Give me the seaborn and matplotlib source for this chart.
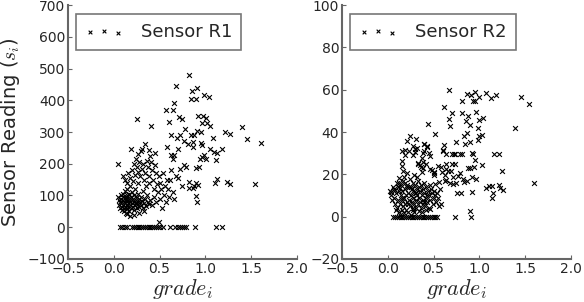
import matplotlib
matplotlib.use("Agg")
import matplotlib.pyplot as plt
import seaborn as sns
import numpy as np
import pandas as pd

# Sensor R1 readings (grade, reading)
r1_points = [
    (0.82, 480), (0.68, 445), (0.85, 428), (0.91, 438), (0.84, 405), (0.90, 405),
    (0.99, 418), (1.04, 410), (0.66, 390), (0.57, 368), (0.65, 368), (0.25, 340),
    (0.60, 333), (0.41, 318), (0.71, 348), (0.75, 342), (0.92, 350), (0.97, 350),
    (1.01, 345), (0.96, 328), (1.02, 328), (1.05, 320), (1.40, 315), (1.46, 277),
    (1.61, 264), (1.22, 300), (1.27, 293), (1.08, 280), (0.78, 310), (0.62, 290),
    (0.69, 282), (0.72, 290), (0.84, 290), (0.88, 290), (0.86, 270), (0.91, 304),
    (0.95, 300), (0.77, 272), (0.81, 262), (0.86, 252), (0.95, 265), (0.96, 258),
    (1.05, 245), (1.09, 238), (1.13, 235), (1.18, 245), (0.98, 226), (0.96, 220),
    (1.01, 216), (1.12, 212), (0.94, 216), (0.19, 246), (0.31, 247), (0.34, 263),
    (0.39, 244), (0.45, 235), (0.58, 252), (0.70, 247), (0.62, 226), (0.65, 216),
    (0.66, 228), (0.77, 196), (0.79, 190), (0.90, 186), (0.93, 190), (1.13, 152),
    (1.11, 138), (1.24, 142), (1.27, 137), (1.54, 136), (0.90, 139), (0.88, 131),
    (0.87, 125), (0.82, 125), (0.82, 142), (0.92, 133), (0.90, 97), (0.91, 79),
    (0.49, 17),
    (0.05, 95), (0.06, 85), (0.06, 70), (0.07, 60), (0.07, 80), (0.08, 100),
    (0.08, 90), (0.08, 75), (0.09, 65), (0.09, 55), (0.10, 105), (0.10, 95),
    (0.10, 85), (0.10, 70), (0.11, 60), (0.11, 50), (0.11, 80), (0.12, 115),
    (0.12, 92), (0.12, 75), (0.13, 65), (0.13, 88), (0.13, 45), (0.14, 100),
    (0.14, 82), (0.14, 70), (0.15, 58), (0.15, 95), (0.15, 120), (0.16, 85),
    (0.16, 75), (0.16, 65), (0.17, 105), (0.17, 90), (0.17, 50), (0.18, 80),
    (0.18, 70), (0.18, 130), (0.19, 95), (0.19, 60), (0.20, 85), (0.20, 75),
    (0.20, 110), (0.21, 65), (0.21, 90), (0.22, 80), (0.22, 100), (0.22, 55),
    (0.23, 70), (0.23, 120), (0.24, 85), (0.24, 75), (0.25, 95), (0.25, 62),
    (0.26, 80), (0.26, 140), (0.27, 72), (0.27, 105), (0.28, 88), (0.28, 65),
    (0.29, 78), (0.30, 95), (0.30, 70), (0.31, 82), (0.32, 60), (0.32, 115),
    (0.33, 75), (0.34, 90), (0.35, 68), (0.36, 100), (0.37, 80), (0.38, 72),
    (0.40, 85), (0.42, 70), (0.44, 95), (0.46, 78), (0.05, 200), (0.10, 160),
    (0.12, 150), (0.14, 140), (0.16, 170), (0.18, 155), (0.20, 180), (0.21, 145),
    (0.22, 200), (0.23, 165), (0.24, 215), (0.25, 190), (0.26, 175), (0.27, 230),
    (0.28, 205), (0.29, 160), (0.30, 240), (0.31, 185), (0.32, 200), (0.33, 150),
    (0.34, 170), (0.35, 130), (0.36, 210), (0.37, 190), (0.38, 160), (0.39, 140),
    (0.40, 225), (0.41, 205), (0.42, 180), (0.43, 150), (0.44, 120), (0.45, 195),
    (0.46, 170), (0.47, 135), (0.48, 110), (0.49, 160), (0.50, 90), (0.51, 140),
    (0.52, 120), (0.53, 60), (0.54, 170), (0.55, 100), (0.56, 130), (0.57, 80),
    (0.58, 150), (0.59, 120), (0.60, 95), (0.61, 150), (0.63, 180), (0.65, 110),
    (0.66, 90), (0.68, 160), (0.70, 155), (0.72, 185), (0.74, 130), (0.28, 45),
    (0.22, 40), (0.18, 35), (0.33, 50), (0.14, 42),
]
# R1 readings stuck at zero
r1_zero_x = [0.07, 0.09, 0.12, 0.14, 0.20, 0.22, 0.24, 0.26, 0.28, 0.30, 0.32,
             0.34, 0.36, 0.38, 0.40, 0.42, 0.44, 0.46, 0.48, 0.51, 0.54, 0.61,
             0.67, 0.70, 0.72, 0.75, 0.77, 0.79, 0.89, 1.12, 1.18]

# Sensor R2 readings (grade, reading)
r2_points = [
    (0.67, 59.8), (0.86, 57.8), (0.905, 57.3), (0.95, 58.7), (1.0, 56.7),
    (1.07, 58.3), (1.13, 56.3), (1.18, 57.3), (0.93, 54.8), (0.95, 54.8),
    (0.81, 54.6), (1.45, 56.4), (1.54, 53.2), (0.61, 51.6), (0.70, 48.8),
    (0.67, 46.1), (0.68, 42.8), (0.81, 48.8), (0.88, 47.4), (0.96, 49.6),
    (1.0, 45.9), (1.04, 46.7), (0.85, 45.2), (0.9, 43.5), (0.99, 41.9),
    (0.44, 43.6), (1.39, 41.9), (0.52, 39.0), (0.86, 39.7), (0.83, 38.0),
    (1.0, 38.2), (1.03, 38.7), (0.74, 35.5), (0.84, 34.4), (0.9, 35.3),
    (0.99, 36.3), (0.245, 38.3), (0.31, 36.7), (0.21, 35.9), (0.4, 34.5),
    (0.43, 33.0), (0.4, 31.0), (0.45, 30.3), (0.46, 28.6), (0.37, 27.8),
    (0.19, 31.6), (0.23, 31.0), (0.3, 30.5), (0.32, 32.3), (0.6, 31.0),
    (0.6, 31.7), (0.61, 33.8), (0.64, 29.4), (0.70, 29.5), (0.72, 29.5),
    (0.73, 29.6), (0.79, 29.5), (0.81, 29.4), (0.92, 29.9), (0.93, 29.5),
    (1.16, 29.4), (1.21, 29.4), (0.70, 25.1), (0.73, 24.8), (0.95, 26.6),
    (0.94, 23.5), (0.9, 23.2), (0.88, 23.1), (1.03, 24.5), (0.58, 23.7),
    (0.64, 22.6), (0.66, 21.5), (0.69, 21.5), (0.64, 25.1), (0.38, 26.0),
    (0.33, 24.8), (0.36, 23.6), (0.42, 25.1), (0.46, 22.6), (0.5, 21.0),
    (0.51, 19.9), (0.77, 19.4), (0.82, 17.8), (0.86, 17.0), (0.83, 16.2),
    (0.92, 18.6), (0.96, 17.8), (1.25, 21.6), (1.6, 16.0), (0.52, 15.6),
    (0.56, 16.4), (0.62, 17.0), (0.71, 15.6), (1.07, 13.4), (1.1, 14.6),
    (1.14, 14.6), (1.22, 14.9), (1.26, 12.6), (1.23, 13.4), (0.76, 11.1),
    (0.8, 11.4), (0.92, 11.6), (1.15, 11.4), (1.14, 8.7), (0.9, 2.6),
    (0.56, 5.0), (0.42, 3.3), (0.46, 3.5),
    (0.16, 31.1), (0.19, 29.1), (0.15, 26.3), (0.28, 33.4), (0.27, 29.1),
    (0.30, 31.8), (0.40, 34.3), (0.43, 33.4), (0.39, 30.2), (0.15, 23.9),
    (0.17, 21.7), (0.21, 20.5), (0.18, 18.9), (0.12, 18.1), (0.33, 25.2),
    (0.35, 24.4), (0.39, 22.8), (0.37, 21.3), (0.29, 19.7), (0.32, 18.9),
    (0.48, 22.1), (0.5, 20.8), (0.55, 23.9), (0.59, 21.2), (0.62, 19.7),
    (0.64, 17.3), (0.68, 15.7), (0.71, 18.9), (0.75, 16.0), (0.79, 20.5),
    (0.12, 15.7), (0.08, 12.6), (0.04, 11.8), (0.13, 13.4), (0.21, 14.2),
    (0.06, 14), (0.07, 9), (0.08, 6), (0.09, 11), (0.10, 4), (0.10, 16),
    (0.11, 8), (0.12, 12), (0.12, 2), (0.13, 6), (0.14, 10), (0.14, 15),
    (0.15, 3), (0.15, 8), (0.16, 12), (0.17, 5), (0.17, 17), (0.18, 9),
    (0.18, 1.5), (0.19, 13), (0.19, 6), (0.20, 10), (0.20, 3), (0.21, 15),
    (0.21, 7), (0.22, 11), (0.22, 2), (0.23, 8), (0.23, 14), (0.24, 5),
    (0.24, 18), (0.25, 10), (0.25, 1), (0.26, 7), (0.26, 13), (0.27, 4),
    (0.27, 16), (0.28, 9), (0.28, 12), (0.29, 6), (0.29, 2), (0.30, 11),
    (0.30, 15), (0.31, 8), (0.31, 4), (0.32, 13), (0.32, 10), (0.33, 6),
    (0.33, 17), (0.34, 9), (0.34, 2.5), (0.35, 12), (0.35, 7), (0.36, 15),
    (0.36, 4), (0.37, 10), (0.38, 13), (0.38, 6), (0.39, 8), (0.40, 11),
    (0.40, 16), (0.41, 5), (0.42, 9), (0.42, 14), (0.43, 7), (0.44, 12),
    (0.45, 10), (0.45, 4), (0.46, 8), (0.47, 13), (0.48, 11), (0.49, 6),
    (0.50, 9), (0.51, 12), (0.52, 10), (0.53, 7), (0.54, 11), (0.55, 9),
    (0.57, 13), (0.58, 6), (0.02, 12), (0.03, 10), (0.05, 8), (0.07, 13),
    (0.09, 3), (0.11, 14), (0.13, 1), (0.16, 9), (0.19, 16), (0.22, 6),
    (0.25, 14), (0.28, 3), (0.31, 11), (0.34, 14), (0.37, 2), (0.40, 7),
    (0.43, 10), (0.46, 15),
]
r2_zero_x = [0.06, 0.08, 0.10, 0.12, 0.14, 0.16, 0.18, 0.20, 0.22, 0.24, 0.26,
             0.28, 0.30, 0.32, 0.34, 0.36, 0.38, 0.40, 0.42, 0.44, 0.46, 0.48,
             0.50, 0.52, 0.54, 0.73, 0.91]


def to_frame(points, zero_x):
    df = pd.DataFrame(points, columns=["grade", "reading"])
    zeros = pd.DataFrame({"grade": zero_x, "reading": 0.0})
    return pd.concat([df, zeros], ignore_index=True)


sns.set_style("ticks")
plt.rcParams["font.family"] = ["DejaVu Sans"]
plt.rcParams["mathtext.fontset"] = "cm"

fig = plt.figure(figsize=(5.84, 3.02), dpi=100)
ax1 = fig.add_axes([0.1164, 0.1424, 0.392, 0.841])
ax2 = fig.add_axes([0.5856, 0.1424, 0.392, 0.841])

panels = [
    (ax1, to_frame(r1_points, r1_zero_x), "Sensor R1", (-100, 700), range(-100, 701, 100)),
    (ax2, to_frame(r2_points, r2_zero_x), "Sensor R2", (-20, 100), range(-20, 101, 20)),
]

for ax, df, name, ylim, yticks in panels:
    sns.scatterplot(data=df, x="grade", y="reading", ax=ax, marker="x",
                    color="black", s=12, linewidth=0.8, label=name)
    ax.set_xlim(-0.5, 2.0)
    ax.set_ylim(*ylim)
    ax.set_xticks(np.arange(-0.5, 2.01, 0.5))
    ax.set_yticks(list(yticks))
    ax.set_xlabel("$grade_i$", fontsize=16, labelpad=1)
    ax.set_ylabel("")
    ax.tick_params(labelsize=10, length=3, width=0.8, color="#666666",
                   direction="in", pad=2)
    for side in ["left", "bottom"]:
        ax.spines[side].set_color("#666666")
        ax.spines[side].set_linewidth(1.5)
    sns.despine(ax=ax)
    leg = ax.legend(loc="upper left", scatterpoints=3, fontsize=13,
                    frameon=True, fancybox=False, borderpad=0.5,
                    borderaxespad=0, handlelength=2.1, handletextpad=1.0,
                    bbox_to_anchor=(0.035, 0.965))
    for h in leg.legend_handles:
        h.set_sizes([7])
    leg.get_frame().set_edgecolor("#555555")
    leg.get_frame().set_linewidth(1.2)

ax1.set_ylabel("Sensor Reading ($s_i$)", fontsize=14, labelpad=4)

fig.savefig("out.png", dpi=100)
